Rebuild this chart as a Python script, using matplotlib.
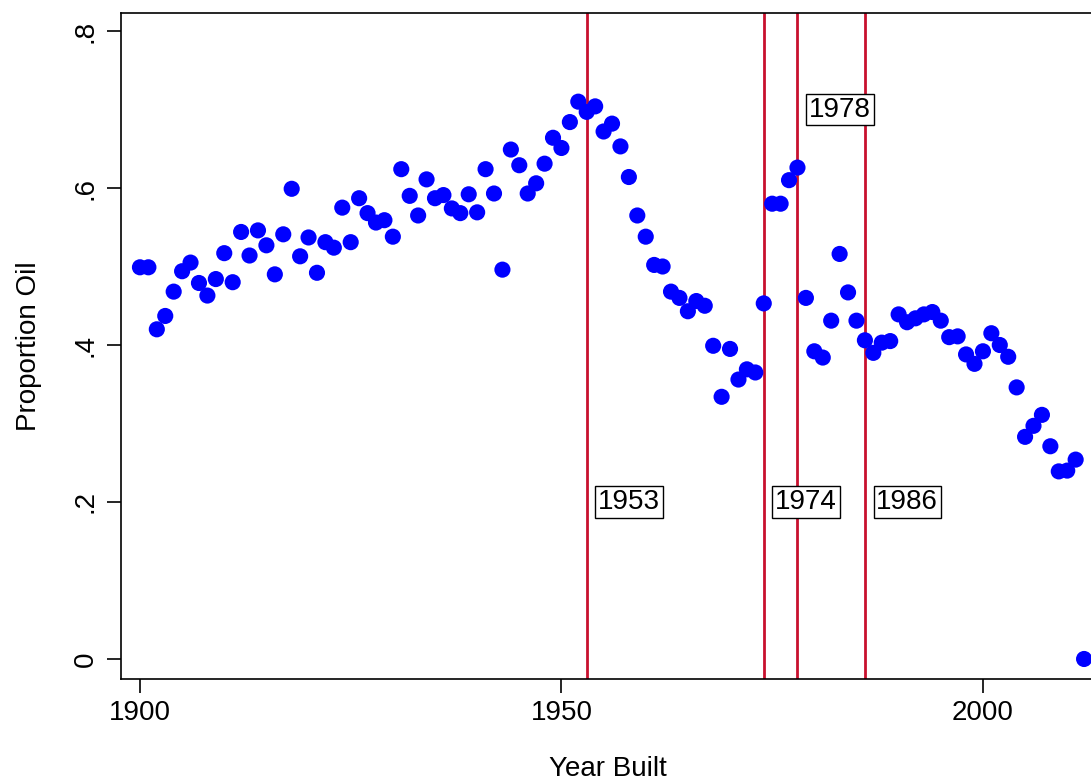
import matplotlib
matplotlib.use("Agg")
from matplotlib import pyplot as plt
import numpy as np

plt.rcParams['font.family'] = ['Liberation Sans', 'DejaVu Sans']

# Data
years = np.arange(1900, 2013)
prop_oil = [
    0.499, 0.499, 0.420, 0.437, 0.468, 0.494, 0.505, 0.479, 0.463, 0.484,  # 1900s
    0.517, 0.480, 0.544, 0.514, 0.546, 0.527, 0.490, 0.541, 0.599, 0.513,  # 1910s
    0.537, 0.492, 0.531, 0.524, 0.575, 0.531, 0.587, 0.568, 0.556, 0.559,  # 1920s
    0.538, 0.624, 0.590, 0.565, 0.611, 0.587, 0.591, 0.574, 0.568, 0.592,  # 1930s
    0.569, 0.624, 0.593, 0.496, 0.649, 0.629, 0.593, 0.606, 0.631, 0.664,  # 1940s
    0.651, 0.684, 0.710, 0.697, 0.704, 0.672, 0.682, 0.653, 0.614, 0.565,  # 1950s
    0.538, 0.502, 0.500, 0.468, 0.460, 0.443, 0.456, 0.450, 0.399, 0.334,  # 1960s
    0.395, 0.356, 0.369, 0.365, 0.453, 0.580, 0.580, 0.610, 0.626, 0.460,  # 1970s
    0.392, 0.384, 0.431, 0.516, 0.467, 0.431, 0.406, 0.390, 0.403, 0.405,  # 1980s
    0.439, 0.429, 0.434, 0.439, 0.442, 0.431, 0.410, 0.411, 0.388, 0.376,  # 1990s
    0.392, 0.415, 0.400, 0.385, 0.346, 0.283, 0.297, 0.311, 0.271, 0.239,  # 2000s
    0.240, 0.254, 0.0,                                                      # 2010s
]
event_years = [1953, 1974, 1978, 1986]
event_label_y = [0.2, 0.2, 0.70, 0.2]

fig = plt.figure(figsize=(10.91, 7.81), dpi=100)
ax = fig.add_axes([0.1109, 0.1306, 0.8928, 0.8528])

for yr, ly in zip(event_years, event_label_y):
    ax.axvline(yr, color='#c8102e', lw=2, zorder=1)
    ax.text(yr + 1.35, ly, str(yr), fontsize=20, ha='left', va='center',
            bbox=dict(boxstyle='square,pad=0.1', fc='white', ec='black', lw=1),
            zorder=3)

ax.scatter(years, prop_oil, s=135, color='#0000ff', edgecolors='none', zorder=2)

ax.set_xlim(1897.75, 2013.3)
ax.set_ylim(-0.0255, 0.823)
ax.set_xticks([1900, 1950, 2000])
ax.set_yticks([0, 0.2, 0.4, 0.6, 0.8])
ax.set_yticklabels(['0', '.2', '.4', '.6', '.8'], rotation=90, va='center')
ax.tick_params(axis='both', labelsize=20, length=10, width=1.2, direction='out')
ax.tick_params(axis='y', pad=6)
ax.tick_params(axis='x', pad=5)
for sp in ax.spines.values():
    sp.set_linewidth(1.2)

ax.set_xlabel('Year Built', fontsize=20, labelpad=22)
ax.set_ylabel('Proportion Oil', fontsize=20, labelpad=22)

fig.savefig('out.png', dpi=100)
